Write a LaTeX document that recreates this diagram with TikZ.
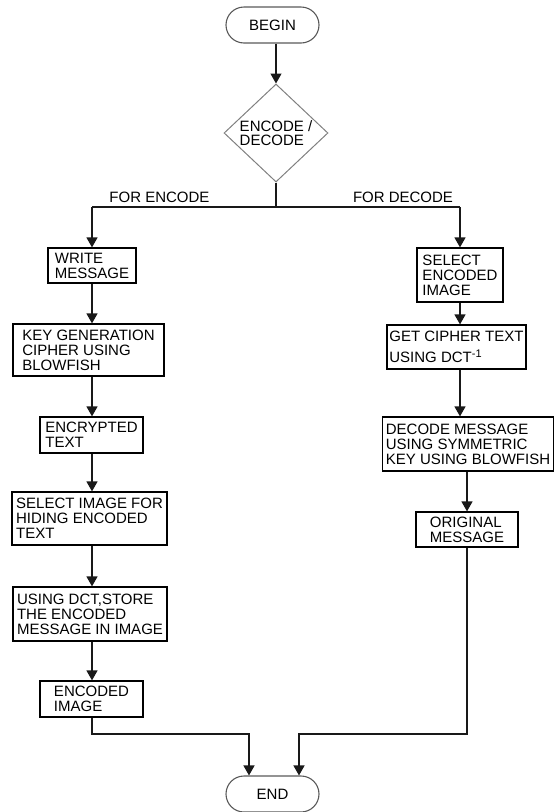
\documentclass[tikz,border=0pt]{standalone}
\usepackage{fontspec}
\setmainfont{Liberation Sans}
\usetikzlibrary{shapes.geometric,shapes.misc,arrows.meta}
\begin{document}
\begin{tikzpicture}[x=1pt,y=-1pt,
  every node/.style={font=\fontsize{15}{15}\selectfont, text=black},
  box/.style={draw=black, line width=1.2pt, rectangle, align=left, inner sep=1pt},
  term/.style={draw=black!65, line width=1.1pt, rounded rectangle, minimum width=95pt, minimum height=36pt, inner sep=1pt},
  dec/.style={draw=black!50, line width=1pt, diamond, minimum width=104pt, minimum height=98pt, inner sep=0pt},
  conn/.style={line width=1.3pt, draw=black!90, -{Triangle[width=11pt,length=10pt]}},
  line/.style={line width=1.3pt, draw=black!90}]
\useasboundingbox (0,0) rectangle (555,812);

% terminals and decision
\node[term] (B) at (272.5,25) {BEGIN};
\node[dec] (D) at (276,133) {};
\node[align=left, inner sep=0pt, font=\fontsize{15}{14}\selectfont] (Dt) at (276,133) {ENCODE /\\DECODE};
\node[term] (E) at (272.5,794) {END};

% left column
\node[box, minimum width=88pt, minimum height=35pt] (L1) at (92,265.5) {WRITE\\MESSAGE};
\node[box, minimum width=151pt, minimum height=52pt] (L2) at (88.5,350) {KEY GENERATION\\CIPHER USING\\BLOWFISH};
\node[box, minimum width=103pt, minimum height=36pt] (L3) at (91.5,435) {ENCRYPTED\\TEXT};
\node[box, minimum width=155pt, minimum height=53pt] (L4) at (89.5,518.5) {SELECT IMAGE FOR\\HIDING ENCODED\\TEXT};
\node[box, minimum width=154pt, minimum height=54pt] (L5) at (90,614) {USING DCT,STORE\\THE ENCODED\\MESSAGE IN IMAGE};
\node[box, minimum width=103pt, minimum height=36pt] (L6) at (91.5,699) {ENCODED\\IMAGE};

% right column
\node[box, minimum width=86pt, minimum height=54pt] (R1) at (460,275) {SELECT\\ENCODED\\IMAGE};
\node[box, minimum width=139pt, minimum height=44pt] (R2) at (456.5,347) {GET CIPHER TEXT\\[6pt]USING DCT\raisebox{5pt}{\fontsize{11}{11}\selectfont -1}};
\node[box, minimum width=171pt, minimum height=54pt] (R3) at (468,444) {DECODE MESSAGE\\USING SYMMETRIC\\KEY USING BLOWFISH};
\node[box, minimum width=102pt, minimum height=35pt] (R4) at (467,529.5) {ORIGINAL\\MESSAGE};

% branch coordinates
\coordinate (split) at (276,207);
\coordinate (lsplit) at (92,207);
\coordinate (rsplit) at (460,207);
\coordinate (ljoin) at (92,734);
\coordinate (ljoin2) at (249,734);
\coordinate (rjoin) at (467,734);
\coordinate (rjoin2) at (299,734);

% labels
\node (fe) at (159.5,197) {FOR ENCODE};
\node (fd) at (403,197) {FOR DECODE};

% connectors
\draw[conn] (D.north |- B.south) -- (D.north);
\draw[line] (D.south) -- (split);
\draw[line] (lsplit) -- (rsplit);
\draw[conn] (lsplit) -- (L1.north -| lsplit);
\draw[conn] (rsplit) -- (R1.north -| rsplit);

\draw[conn] (L1.south -| lsplit) -- (L2.north -| lsplit);
\draw[conn] (L2.south -| lsplit) -- (L3.north -| lsplit);
\draw[conn] (L3.south -| lsplit) -- (L4.north -| lsplit);
\draw[conn] (L4.south -| lsplit) -- (L5.north -| lsplit);
\draw[conn] (L5.south -| lsplit) -- (L6.north -| lsplit);

\draw[conn] (R1.south -| rsplit) -- (R2.north -| rsplit);
\draw[conn] (R2.south -| rsplit) -- (R3.north -| rsplit);
\draw[conn] (R3.south -| rjoin) -- (R4.north -| rjoin);

\draw[conn] (L6.south -| ljoin) -- (ljoin) -- (ljoin2) -- (E.north -| ljoin2);
\draw[conn] (R4.south -| rjoin) -- (rjoin) -- (rjoin2) -- (E.north -| rjoin2);
\end{tikzpicture}
\end{document}
